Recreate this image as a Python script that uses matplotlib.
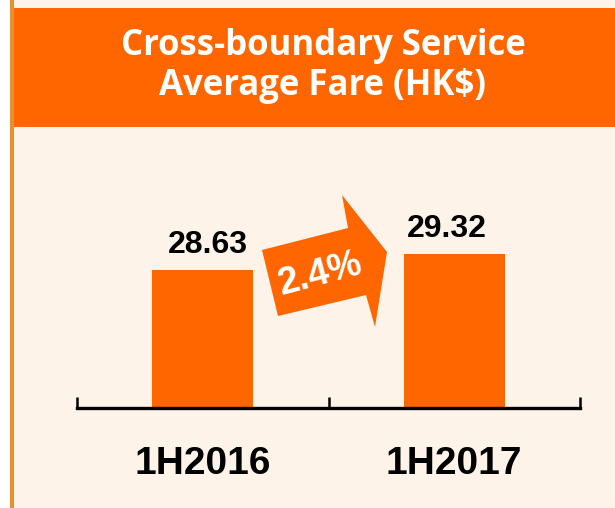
import matplotlib
matplotlib.use("Agg")
import matplotlib.pyplot as plt
from matplotlib.patches import Polygon, Rectangle

# data
periods = ["1H2016", "1H2017"]
fares = [28.63, 29.32]
growth_label = "2.4%"
title_lines = ["Cross-boundary Service", "Average Fare (HK$)"]

W, H = 615, 508
orange = "#FF6600"
cream = "#FDF3E8"

fig = plt.figure(figsize=(W / 100, H / 100), dpi=100)
fig.patch.set_facecolor(cream)


def fx(px):
    return px / W


def fy(py):
    return (H - py) / H


# left white strip and orange rule
fig.patches.append(Rectangle((0, 0), fx(10), 1, transform=fig.transFigure,
                             facecolor="white", edgecolor="none", zorder=0))
fig.patches.append(Rectangle((fx(10), 0), fx(4), 1, transform=fig.transFigure,
                             facecolor="#E8912C", edgecolor="none", zorder=0))

# title banner
fig.patches.append(Rectangle((fx(14), fy(127)), 1 - fx(14), fy(8) - fy(127),
                             transform=fig.transFigure, facecolor=orange,
                             edgecolor="none", zorder=1))
fig.text(fx(323), fy(55), title_lines[0], color="white", fontsize=25,
         fontweight="bold", family=["Open Sans", "DejaVu Sans"],
         ha="center", va="baseline")
fig.text(fx(323), fy(95), title_lines[1], color="white", fontsize=25,
         fontweight="bold", family=["Open Sans", "DejaVu Sans"],
         ha="center", va="baseline")

# chart area
ax = fig.add_axes([fx(77), fy(408), fx(580) - fx(77), fy(130) - fy(408)])
ax.set_facecolor("none")
x = range(len(periods))
bars = ax.bar(x, fares, width=0.4, color=orange, bottom=0)
ax.set_xlim(-0.5, 1.5)
ax.set_ylim(22.68, 34.66)

label_dx = [4, -5]  # small horizontal nudges as in the original
for b, v, dx in zip(bars, fares, label_dx):
    ax.annotate(f"{v:.2f}", (b.get_x() + b.get_width() / 2, v),
                xytext=(dx, 7), textcoords="offset points", ha="center",
                va="bottom", fontsize=23, fontweight="bold",
                family=["Liberation Sans", "DejaVu Sans"])

for s in ["top", "left", "right"]:
    ax.spines[s].set_visible(False)
ax.spines["bottom"].set_linewidth(2.4)
ax.set_yticks([])
ax.set_xticks(list(x))
ax.set_xticklabels(periods, fontsize=28, fontweight="bold",
                   family=["Liberation Sans", "DejaVu Sans"])
ax.tick_params(axis="x", which="major", length=0, pad=27)
ax.set_xticks([-0.5, 0.5, 1.5], minor=True)
ax.tick_params(axis="x", which="minor", direction="in", length=8, width=1.8)

# growth arrow
arrow_px = [(262, 250), (348, 228), (342, 195), (387, 252),
            (375, 327), (366, 295), (278, 316)]
fig.patches.append(Polygon([(fx(a), fy(b)) for a, b in arrow_px], closed=True,
                           transform=fig.transFigure, facecolor=orange,
                           edgecolor="none", zorder=3))
fig.text(fx(320), fy(274), growth_label, color="white", fontsize=27,
         fontweight="bold", family=["Liberation Sans", "DejaVu Sans"],
         rotation=15, rotation_mode="anchor", ha="center", va="center",
         zorder=4)

fig.savefig("out.png", dpi=100, facecolor=fig.get_facecolor())
